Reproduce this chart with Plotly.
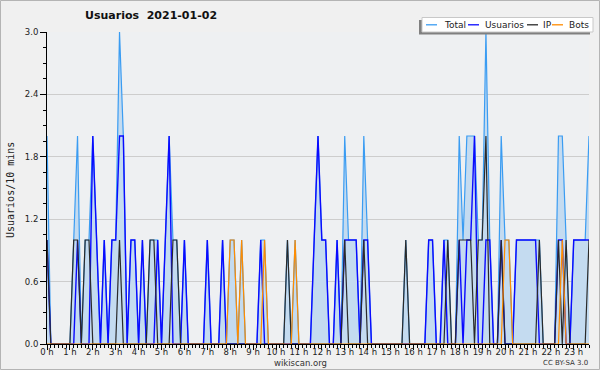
import plotly.graph_objects as go

# ---- data: one value per 10-minute slot (slots 0..142), rows = hours ----
usuarios = [
    1, 0, 0, 0, 0, 0,
    0, 0, 1, 0, 0, 0,
    2, 1, 0, 1, 0, 1,
    1, 2, 2, 0, 1, 1,
    0, 1, 0, 0, 0, 1,
    0, 1, 2, 0, 0, 0,
    1, 0, 0, 0, 0, 0,
    1, 0, 0, 0, 1, 0,
    0, 0, 0, 0, 0, 0,
    0, 0, 1, 0, 0, 0,
    0, 0, 0, 0, 0, 0,
    0, 0, 0, 0, 1, 2,
    1, 1, 0, 0, 1, 0,
    1, 1, 1, 1, 0, 1,
    1, 0, 0, 0, 0, 0,
    0, 0, 0, 0, 0, 0,
    0, 0, 0, 0, 1, 1,
    0, 0, 1, 0, 0, 0,
    1, 0, 1, 1, 2, 0,
    0, 1, 1, 0, 0, 1,
    0, 0, 0, 1, 1, 1,
    1, 1, 1, 0, 0, 0,
    0, 0, 1, 1, 0, 0,
    1, 1, 1, 1, 1,
]
ip = [
    1, 0, 0, 0, 0, 0,
    0, 1, 1, 0, 1, 1,
    0, 0, 0, 0, 0, 0,
    0, 1, 0, 0, 0, 0,
    0, 0, 0, 1, 1, 0,
    0, 0, 0, 1, 1, 0,
    0, 0, 0, 0, 0, 0,
    0, 0, 0, 0, 0, 0,
    0, 0, 0, 0, 0, 0,
    0, 0, 0, 0, 0, 0,
    0, 0, 0, 1, 0, 0,
    0, 0, 0, 0, 0, 0,
    0, 0, 0, 0, 0, 0,
    1, 0, 0, 0, 0, 1,
    0, 0, 0, 0, 0, 0,
    0, 0, 0, 0, 1, 0,
    0, 0, 0, 0, 0, 0,
    0, 0, 0, 1, 0, 0,
    1, 1, 1, 1, 0, 1,
    1, 2, 0, 0, 0, 1,
    0, 0, 0, 0, 0, 0,
    0, 0, 0, 1, 0, 0,
    0, 0, 1, 0, 1, 0,
    0, 0, 0, 0, 1,
]
bots = [
    0, 0, 0, 0, 0, 0,
    0, 0, 0, 0, 0, 0,
    0, 0, 0, 0, 0, 0,
    0, 0, 0, 0, 0, 0,
    0, 0, 0, 0, 0, 0,
    0, 0, 0, 0, 0, 0,
    0, 0, 0, 0, 0, 0,
    0, 0, 0, 0, 0, 0,
    1, 1, 0, 1, 0, 0,
    0, 0, 0, 1, 0, 0,
    0, 0, 0, 0, 0, 1,
    0, 0, 0, 0, 0, 0,
    0, 0, 0, 0, 0, 0,
    0, 0, 0, 0, 0, 0,
    0, 0, 0, 0, 0, 0,
    0, 0, 0, 0, 0, 0,
    0, 0, 0, 0, 0, 0,
    0, 0, 0, 0, 0, 0,
    0, 0, 0, 0, 0, 0,
    0, 0, 0, 0, 0, 0,
    1, 1, 0, 0, 0, 0,
    0, 0, 0, 0, 0, 0,
    0, 0, 0, 1, 0, 0,
    0, 0, 0, 0, 0,
]
total = [
    2, 0, 0, 0, 0, 0,
    0, 1, 2, 0, 1, 1,
    2, 1, 0, 1, 0, 1,
    1, 3, 2, 0, 1, 1,
    0, 1, 0, 1, 1, 1,
    0, 1, 2, 1, 1, 0,
    1, 0, 0, 0, 0, 0,
    1, 0, 0, 0, 1, 0,
    1, 1, 0, 1, 0, 0,
    0, 0, 1, 1, 0, 0,
    0, 0, 0, 1, 0, 1,
    0, 0, 0, 0, 1, 2,
    1, 1, 0, 0, 1, 0,
    2, 1, 1, 1, 0, 2,
    1, 0, 0, 0, 0, 0,
    0, 0, 0, 0, 1, 0,
    0, 0, 0, 0, 1, 1,
    0, 0, 1, 1, 0, 0,
    2, 1, 2, 2, 2, 1,
    1, 3, 1, 0, 0, 2,
    1, 1, 0, 1, 1, 1,
    1, 1, 1, 1, 0, 0,
    0, 0, 2, 2, 1, 0,
    1, 1, 1, 1, 2,
]
series_names = ["Total", "Usuarios", "IP", "Bots"]
y_tick_values = [0.0, 0.6, 1.2, 1.8, 2.4, 3.0]
y_tick_labels = ["0.0", "0.6", "1.2", "1.8", "2.4", "3.0"]
title_text = "Usuarios\u00a0\u00a02021-01-02"
y_title = "Usuarios/10 mins"

# x in hours (10-minute slots)
hours = [i / 6 for i in range(len(total))]

W, H = 600, 370
ML, MR, MT, MB = 47, 11, 32, 26
PW, PH = W - ML - MR, H - MT - MB


def px(p):
    return (p - ML) / PW


def py(p):
    return (H - MB - p) / PH


FONT = "DejaVu Sans"
C_TOTAL = "#3a9cf2"
C_FILL = "#c4dbf0"
C_USR = "#0a0aff"
C_IP = "#2a2a2a"
C_BOTS = "#ff8c00"

fig = go.Figure()
fig.add_trace(go.Scatter(x=hours, y=total, mode="lines", name=series_names[0],
                         line=dict(color=C_TOTAL, width=1.2), fill="tozeroy",
                         fillcolor=C_FILL, cliponaxis=True))
fig.add_trace(go.Scatter(x=hours, y=usuarios, mode="lines", name=series_names[1],
                         line=dict(color=C_USR, width=1.4)))
fig.add_trace(go.Scatter(x=hours, y=ip, mode="lines", name=series_names[2],
                         line=dict(color=C_IP, width=1.2)))
fig.add_trace(go.Scatter(x=hours, y=bots, mode="lines", name=series_names[3],
                         line=dict(color=C_BOTS, width=1.2)))

fig.update_layout(
    width=W, height=H, autosize=False,
    margin=dict(l=ML, r=MR, t=MT, b=MB, pad=0, autoexpand=False),
    paper_bgcolor="#f0f0f0", plot_bgcolor="#eef0f2",
    showlegend=False,
    font=dict(family=FONT, size=9, color="#222"),
)
fig.update_xaxes(
    range=[0, hours[-1]], tickmode="linear", tick0=0, dtick=1, ticksuffix=" h",
    tickangle=0, automargin=False, ticklabelstandoff=-5,
    showgrid=False, zeroline=False, showline=True, linecolor="black", linewidth=1,
    ticks="outside", ticklen=5, tickcolor="black", tickwidth=1,
    tickfont=dict(family=FONT, size=8.5, color="#222"),
    minor=dict(dtick=1 / 6, tick0=0, ticks="outside", ticklen=3, tickcolor="black", showgrid=False),
)
fig.update_yaxes(
    range=[0, 3], tickmode="array", tickvals=y_tick_values, ticktext=y_tick_labels,
    automargin=False,
    showgrid=True, gridcolor="#cdcdcd", gridwidth=1, zeroline=False,
    showline=True, linecolor="black", linewidth=1,
    ticks="outside", ticklen=6, tickcolor="black",
    tickfont=dict(family=FONT, size=8.5, color="#222"),
    minor=dict(dtick=0.15, tick0=0, ticks="outside", ticklen=3, tickcolor="black", showgrid=False),
)

shapes = []
# outer border
shapes.append(dict(type="rect", xref="paper", yref="paper",
                   x0=px(0.5), x1=px(W - 0.5), y0=py(0.5), y1=py(H - 0.5),
                   line=dict(color="#b4b4b4", width=1), fillcolor="rgba(0,0,0,0)", layer="below"))
# legend shadow and box
shapes.append(dict(type="rect", xref="paper", yref="paper",
                   x0=px(419), x1=px(590), y0=py(34.5), y1=py(20),
                   line=dict(width=0), fillcolor="#808080"))
shapes.append(dict(type="rect", xref="paper", yref="paper",
                   x0=px(422), x1=px(593), y0=py(32), y1=py(17.5),
                   line=dict(color="#c8c8c8", width=1), fillcolor="white"))
legend_items = [(series_names[0], C_TOTAL, 426, 443), (series_names[1], C_USR, 468, 484),
                (series_names[2], C_IP, 527, 542), (series_names[3], C_BOTS, 552, 568)]
annotations = []
for name, col, lx, tx in legend_items:
    shapes.append(dict(type="line", xref="paper", yref="paper",
                       x0=px(lx), x1=px(lx + 11), y0=py(24.8), y1=py(24.8),
                       line=dict(color=col, width=1.3)))
    annotations.append(dict(text=name, xref="paper", yref="paper", x=px(tx - 1), y=py(25),
                            xanchor="left", yanchor="middle", showarrow=False,
                            font=dict(family=FONT, size=9, color="#222")))

annotations.append(dict(text="<b>" + title_text + "</b>", xref="paper", yref="paper",
                        x=px(151), y=py(16), xanchor="center", yanchor="middle",
                        showarrow=False, font=dict(family=FONT, size=11, color="#111")))
annotations.append(dict(text=y_title, xref="paper", yref="paper", x=px(10), y=py(190),
                        xanchor="center", yanchor="middle", textangle=-90, showarrow=False,
                        font=dict(family="DejaVu Sans Mono", size=10, color="#222")))
annotations.append(dict(text="wikiscan.org", xref="paper", yref="paper", x=px(300), y=py(362.5),
                        xanchor="center", yanchor="middle", showarrow=False,
                        font=dict(family=FONT, size=8.5, color="#333")))
annotations.append(dict(text="CC BY-SA 3.0", xref="paper", yref="paper", x=px(590), y=py(362.5),
                        xanchor="right", yanchor="middle", showarrow=False,
                        font=dict(family=FONT, size=7, color="#333")))

fig.update_layout(shapes=shapes, annotations=annotations)

fig.write_html("out.html", config={"displayModeBar": False},
               post_script="document.body.style.margin='0';")
